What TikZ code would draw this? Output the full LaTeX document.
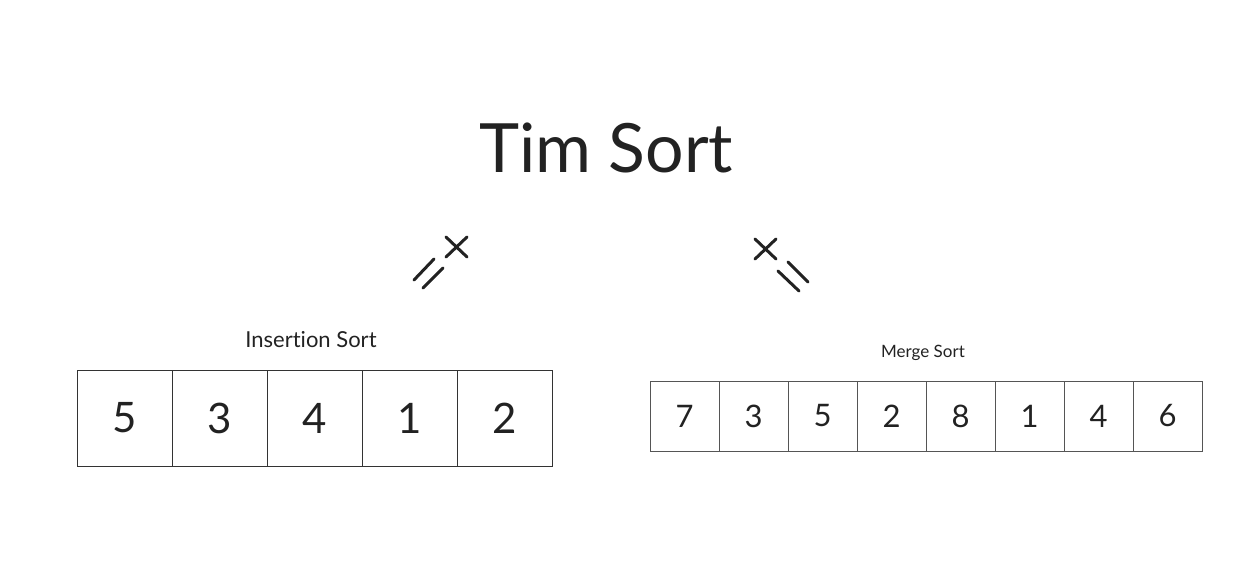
\documentclass[tikz,border=0pt]{standalone}
\usepackage{fontspec}
\setmainfont[Ligatures=NoCommon]{Lato}
\usepackage{tikz}
\usetikzlibrary{positioning}
\definecolor{inkcolor}{HTML}{222222}
\definecolor{framecolor}{HTML}{333333}
\definecolor{framelight}{HTML}{555555}

\tikzset{
  bigcell/.style={draw=framecolor, line width=1pt, minimum width=95pt, minimum height=96pt,
    inner sep=0pt, text=inkcolor, font=\fontsize{42}{48}\selectfont},
  smallcell/.style={draw=framelight, line width=0.8pt, minimum width=69pt, minimum height=70pt,
    inner sep=0pt, text=inkcolor, font=\fontsize{31}{36}\selectfont},
  glyph/.style={line width=3pt, line cap=round, draw=inkcolor}
}

\begin{document}
\begin{tikzpicture}[x=1pt, y=-1pt]
    % Canvas
    \useasboundingbox (0,0) rectangle (1252,567);

    % Title
    \node[text=inkcolor, font=\fontsize{68}{76}\selectfont] (title) at (606,148) {Tim Sort};

    % Left branch mark
    \draw[glyph] (446,237) -- (467,257);
    \draw[glyph] (446,257) -- (467,237);
    \draw[glyph] (414,280) -- (434,259);
    \draw[glyph] (423,288) -- (443,268);

    % Right branch mark
    \draw[glyph] (755,239) -- (776,259);
    \draw[glyph] (755,259) -- (776,239);
    \draw[glyph] (778,271) -- (799,291);
    \draw[glyph] (788,262) -- (808,282);

    % Insertion sort run
    \node[text=inkcolor, font=\fontsize{22}{26}\selectfont] (inslabel) at (311,340) {Insertion Sort};
    \foreach \val [count=\i] in {5,3,4,1,2}
        \node[bigcell] (ins\i) at (77+95*\i-47.5,418) {\val};

    % Merge sort run
    \node[text=inkcolor, font=\fontsize{17}{20}\selectfont] (mrglabel) at (923,353) {Merge Sort};
    \foreach \val [count=\i] in {7,3,5,2,8,1,4,6}
        \node[smallcell] (mrg\i) at (650+69*\i-34.5,416) {\val};
\end{tikzpicture}
\end{document}
